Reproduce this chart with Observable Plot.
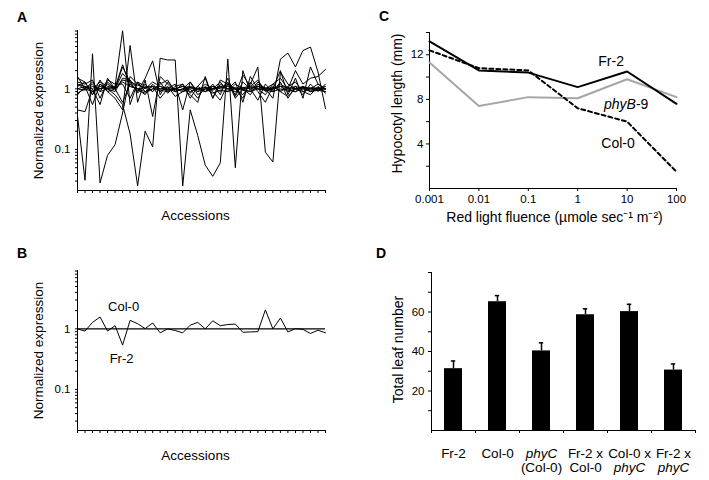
<!DOCTYPE html>
<html><head><meta charset="utf-8">
<script src="https://cdn.jsdelivr.net/npm/d3@7"></script>
<script src="https://cdn.jsdelivr.net/npm/@observablehq/plot@0.6"></script>
<style>
body{margin:0;background:#fff;}
#fig{position:relative;width:709px;height:480px;overflow:hidden;font-family:"Liberation Sans",Arial,Helvetica,sans-serif;background:#fff;}
#fig svg{position:absolute;}
.letter{position:absolute;font-weight:bold;font-size:14px;line-height:14px;color:#000;}
</style></head><body><div id="fig"></div>
<script>
// ---------- Panel A: normalized expression of 12 genes across 34 accessions ----------
const aLine1  = [0.36,0.031,3.8,0.028,0.08,0.12,0.4,1.6,1.2,1.0,1.3,1.1,0.95,1.0,1.1,0.9,1.0,1.05,0.95,1.1,1.0,0.9,1.05,1.0,1.1,0.95,1.0,1.1,0.9,1.0,1.05,0.95,1.0,0.9];
const aLine2  = [1.2,1.0,0.9,1.1,1.0,0.8,0.55,0.18,0.025,0.2,0.11,3.2,3.0,3.0,0.025,0.45,0.17,0.055,0.036,0.06,3.1,0.05,2.0,0.9,1.1,1.0,0.95,1.2,1.0,0.9,1.1,1.0,0.95,1.0];
const aLine3  = [1.0,1.1,0.9,1.0,1.2,1.0,1.3,1.1,1.0,0.9,1.0,1.1,1.0,0.9,1.0,1.1,1.0,0.9,1.1,1.0,1.2,1.0,0.8,1.2,2.3,0.09,0.062,1.9,1.2,1.0,1.1,0.9,1.0,1.1];
const aLine4  = [0.85,1.0,1.2,0.9,1.0,1.1,9.1,0.55,1.3,0.9,1.1,0.7,1.0,1.2,0.45,1.3,0.8,1.0,1.1,0.9,1.3,0.7,1.0,0.8,1.2,1.0,0.7,3.1,3.9,2.3,4.3,4.9,1.9,0.47];
const aLine5  = [1.5,1.3,0.8,1.2,0.9,0.7,0.45,5.2,0.6,1.4,0.35,1.6,1.2,0.9,1.0,0.8,0.6,1.6,0.7,1.2,1.0,1.3,0.6,1.6,1.0,0.8,1.2,1.5,1.0,2.0,1.2,1.5,1.6,2.1];
const aLine6  = [1.3,1.2,1.4,0.7,1.3,1.0,2.3,1.3,0.9,1.5,2.9,0.8,1.3,0.95,1.2,0.85,1.1,1.5,0.7,1.4,1.2,0.8,1.7,1.1,1.4,0.9,1.0,2.0,0.8,1.5,0.7,2.3,1.2,1.0];
const aLine7  = [1.0,0.95,1.1,1.0,1.05,1.0,1.4,1.3,1.15,1.05,1.1,1.0,1.05,1.0,1.1,1.05,1.0,1.05,1.0,1.1,1.0,1.05,1.0,1.05,1.1,1.05,1.0,1.1,1.05,1.0,1.05,1.0,1.05,1.0];
const aLine8  = [1.1,1.3,0.8,1.4,0.9,1.0,1.8,1.3,0.85,1.2,0.9,1.3,0.85,1.1,1.2,0.7,1.1,0.9,1.2,0.8,1.5,0.75,1.3,1.0,0.65,1.2,0.9,1.3,0.7,1.1,0.8,1.2,0.9,1.2];
const aLine9  = [0.8,1.1,0.55,1.2,1.0,0.9,1.5,1.4,1.0,0.8,1.2,0.9,1.1,0.75,0.9,1.0,0.7,1.1,0.9,0.65,1.2,1.0,0.7,1.3,0.9,0.6,1.1,0.9,0.75,1.0,0.9,0.8,1.1,0.85];
const aLine10 = [1.6,1.0,1.3,0.9,1.4,1.2,1.2,0.7,1.3,1.1,0.9,1.2,1.4,0.9,1.0,1.3,0.9,1.2,1.0,1.3,0.9,1.2,1.0,0.9,1.3,1.0,1.2,0.9,1.1,1.3,0.9,1.0,1.2,1.0];
const aLine11 = [0.45,0.42,1.0,0.55,1.5,1.0,0.6,1.2,0.95,0.85,1.0,0.95,0.9,1.0,0.95,1.05,0.9,1.0,0.85,0.95,0.9,1.0,0.95,0.9,1.0,0.95,0.9,1.0,0.95,0.9,1.0,0.9,0.95,0.9];
const aLine12 = [1.2,1.1,1.0,1.3,1.1,1.05,2.5,1.1,1.0,1.05,1.1,1.0,0.95,1.0,0.9,1.05,1.0,0.9,1.0,1.05,1.1,1.0,1.05,1.1,1.0,1.0,1.05,0.95,1.0,1.1,1.0,1.05,1.0,1.0];
const aLines = [aLine1,aLine2,aLine3,aLine4,aLine5,aLine6,aLine7,aLine8,aLine9,aLine10,aLine11,aLine12];
const exprTickLabels = [0.1, 1];

// ---------- Panel B: Fr-2 relative to Col-0 ----------
const bFr2 = [1.0,0.92,1.28,1.57,0.92,1.13,0.54,1.38,1.22,1.01,1.25,0.86,1.0,0.94,0.86,1.15,1.28,1.0,1.36,1.13,1.18,1.2,0.88,0.89,0.9,2.06,1.0,1.51,0.89,1.01,0.98,0.84,0.95,0.86];
const bCol0Level = [1];

// ---------- Panel C: hypocotyl length vs red light fluence ----------
const fluence   = [0.001, 0.01, 0.1, 1, 10, 100];
const hypFr2    = [13.2, 10.6, 10.4, 9.1, 10.5, 7.6];
const hypCol0   = [12.4, 10.8, 10.6, 7.2, 6.0, 1.5];
const hypPhyB9  = [11.3, 7.4, 8.2, 8.1, 9.8, 8.2];
const hypTickLabels = [4, 8, 12];

// ---------- Panel D: total leaf number ----------
const leafLine1  = ["Fr-2", "Col-0", "phyC", "Fr-2 x", "Col-0 x", "Fr-2 x"];
const leafLine2  = ["", "", "(Col-0)", "Col-0", "phyC", "phyC"];
const leafItal1  = [false, false, true, false, false, false];
const leafItal2  = [false, false, false, false, true, true];
const leafMean   = [31.3, 65.2, 40.3, 58.6, 60.2, 30.6];
const leafErr    = [3.9, 3.1, 4.1, 3.0, 3.7, 3.1];
const leafTickLabels = [20, 40, 60];

const FONT = '"Liberation Sans", Arial, Helvetica, sans-serif';
const fig = document.getElementById("fig");
function place(svg, left, top) { svg.style.left = left + "px"; svg.style.top = top + "px"; fig.appendChild(svg); }
function letter(t, left, top) { const d = document.createElement("div"); d.className = "letter"; d.textContent = t; d.style.left = left + "px"; d.style.top = top + "px"; fig.appendChild(d); }
const baseStyle = {fontFamily: FONT, fontSize: "11.5px", color: "#000", background: "transparent", overflow: "visible"};

// ---- A & B shared ----
const accIdx = d3.range(aLine1.length);
const exprDomain = [0.021, 9.2];
const exprTicks = d3.scaleLog().domain(exprDomain).ticks();
const exprFmt = d => exprTickLabels.some(t => Math.abs(t - d) < 1e-9) ? d3.format("~g")(d) : "";

function exprPanel(extraMarks) {
  return Plot.plot({
    width: 360, height: 240,
    marginLeft: 77, marginRight: 35, marginTop: 30, marginBottom: 50,
    style: baseStyle,
    x: {domain: [0, accIdx.length - 1], axis: null},
    y: {type: "log", domain: exprDomain, axis: null},
    marks: [
      Plot.axisY({ticks: exprTicks, tickFormat: exprFmt, tickSize: 2, tickPadding: 5, label: null}),
      Plot.axisX({ticks: accIdx, tickFormat: () => "", tickSize: 3, label: null}),
      Plot.ruleX([0], {strokeWidth: 1}),
      Plot.ruleY([exprDomain[0]], {strokeWidth: 1}),
      ...extraMarks,
      Plot.text(["Normalized expression"], {text: d => d, frameAnchor: "left", textAnchor: "middle", rotate: -90, dx: -39, fontSize: 13.5}),
      Plot.text(["Accessions"], {text: d => d, frameAnchor: "bottom", textAnchor: "middle", dx: -6, dy: 29, fontSize: 13.5})
    ]
  });
}

const aRows = aLines.flatMap((vals, s) => vals.map((v, i) => ({s, i, v})));
place(exprPanel([
  Plot.line(aRows, {x: "i", y: "v", z: "s", stroke: "#000", strokeWidth: 1})
]), 0, 0);

const bRows = bFr2.map((v, i) => ({i, v}));
place(exprPanel([
  Plot.ruleY(bCol0Level, {stroke: "#000", strokeWidth: 1.2}),
  Plot.line(bRows, {x: "i", y: "v", stroke: "#000", strokeWidth: 1}),
  Plot.text(bCol0Level, {x: () => 6, y: d => d, text: () => "Col-0", dx: 1, dy: -22.5, fontSize: 13}),
  Plot.text(bCol0Level, {x: () => 6, y: d => d, text: () => "Fr-2", dx: -1, dy: 30, fontSize: 13})
]), 0, 240);

// ---- C ----
const cRows = (vals, name) => vals.map((v, i) => ({x: fluence[i], y: v, name}));
const cFr2 = cRows(hypFr2, "Fr-2"), cCol0 = cRows(hypCol0, "Col-0"), cPhy = cRows(hypPhyB9, "phyB-9");
const at10 = d => d.x === 10;
place(Plot.plot({
  width: 349, height: 240,
  marginLeft: 69, marginRight: 33, marginTop: 32, marginBottom: 52,
  style: baseStyle,
  x: {type: "log", domain: [fluence[0], fluence[fluence.length - 1]], axis: null},
  y: {domain: [0, 14], axis: null},
  marks: [
    Plot.axisX({ticks: fluence, tickFormat: d3.format("~g"), tickSize: 3, tickPadding: 3, label: null}),
    Plot.axisY({ticks: d3.range(2, 15, 2), tickFormat: d => hypTickLabels.includes(d) ? d : "", tickSize: 3, tickPadding: 3, label: null}),
    Plot.ruleX([fluence[0]]),
    Plot.ruleY([0]),
    Plot.line(cPhy, {x: "x", y: "y", stroke: "#a6a6a6", strokeWidth: 2}),
    Plot.line(cCol0, {x: "x", y: "y", stroke: "#000", strokeWidth: 2, strokeDasharray: "4,3"}),
    Plot.line(cFr2, {x: "x", y: "y", stroke: "#000", strokeWidth: 2}),
    Plot.text(cFr2.filter(at10), {x: "x", y: "y", text: "name", dx: -16, dy: -9.5, fontSize: 14}),
    Plot.text(cPhy.filter(at10), {x: "x", y: "y", text: () => "phyB", textAnchor: "end", fontStyle: "italic", dx: 8.8, dy: 25, fontSize: 14}),
    Plot.text(cPhy.filter(at10), {x: "x", y: "y", text: () => "-9", textAnchor: "start", dx: 8.8, dy: 25, fontSize: 14}),
    Plot.text(cCol0.filter(at10), {x: "x", y: "y", text: "name", dx: -9, dy: 22, fontSize: 14}),
    Plot.text(["Hypocotyl length (mm)"], {text: d => d, frameAnchor: "left", textAnchor: "middle", rotate: -90, dx: -32, dy: -7, fontSize: 14}),
    Plot.text(["Red light fluence (\u00b5mole sec\u207b\u00b9 m\u207b\u00b2)"], {text: d => d, frameAnchor: "bottom", textAnchor: "middle", dx: 1.5, dy: 33, fontSize: 14})
  ]
}), 360, 0);

// ---- D ----
const dRows = leafMean.map((v, i) => ({i, v, e: leafErr[i], l1: leafLine1[i], l2: leafLine2[i], it1: leafItal1[i], it2: leafItal2[i]}));
place(Plot.plot({
  width: 349, height: 240,
  marginLeft: 71, marginRight: 14, marginTop: 32, marginBottom: 50,
  style: baseStyle,
  x: {domain: [0, dRows.length], axis: null},
  y: {domain: [0, 80], axis: null},
  marks: [
    Plot.axisX({ticks: d3.range(dRows.length + 1), tickFormat: () => "", tickSize: 3, label: null}),
    Plot.axisY({ticks: d3.range(10, 81, 10), tickFormat: d => leafTickLabels.includes(d) ? d : "", tickSize: 3, tickPadding: 4, label: null}),
    Plot.ruleX([0]),
    Plot.ruleY([0]),
    Plot.ruleX(dRows, {x: d => d.i + 0.5, y1: "v", y2: d => d.v + d.e, strokeWidth: 1.5}),
    Plot.ruleY(dRows, {y: d => d.v + d.e, x1: d => d.i + 0.45, x2: d => d.i + 0.55, strokeWidth: 1.5}),
    Plot.rectY(dRows, {x1: "i", x2: d => d.i + 1, y: "v", insetLeft: 13, insetRight: 13, fill: "#000"}),
    Plot.text(dRows.filter(d => !d.it1), {x: d => d.i + 0.5, y: () => 0, text: "l1", dy: 23.5, fontSize: 13.5}),
    Plot.text(dRows.filter(d => d.it1), {x: d => d.i + 0.5, y: () => 0, text: "l1", dy: 23.5, fontSize: 13.5, fontStyle: "italic"}),
    Plot.text(dRows.filter(d => d.l2 && !d.it2), {x: d => d.i + 0.5, y: () => 0, text: "l2", dy: 37, fontSize: 13.5}),
    Plot.text(dRows.filter(d => d.l2 && d.it2), {x: d => d.i + 0.5, y: () => 0, text: "l2", dy: 37, fontSize: 13.5, fontStyle: "italic"}),
    Plot.text(["Total leaf number"], {text: d => d, frameAnchor: "left", textAnchor: "middle", rotate: -90, dx: -33, dy: -2, fontSize: 14})
  ]
}), 360, 240);

letter("A", 17, 10);
letter("B", 17, 246);
letter("C", 379, 9);
letter("D", 376, 246);
</script></body></html>
